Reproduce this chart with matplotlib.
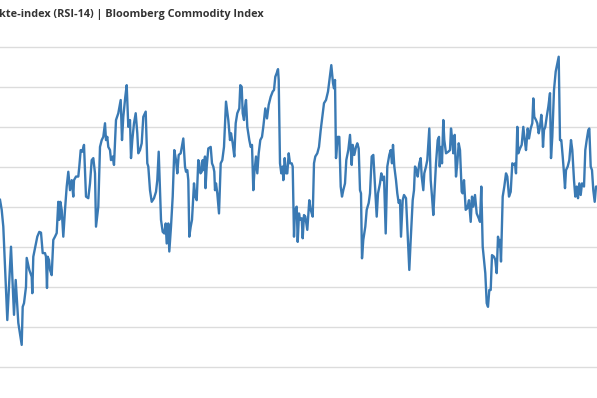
import matplotlib
matplotlib.use("Agg")
import matplotlib.pyplot as plt

# time index (weeks, arbitrary units) and RSI-14 values
t = [0, 1.7, 3.3, 7.3, 11, 14, 15.7, 18.3, 21.7, 22.7, 24, 26, 26.7, 29.3, 31.7, 32.3, 33.3,
     37.3, 39.3, 41, 42.7, 45, 46, 47, 47.7, 49, 50, 51.7, 53.3, 55, 56.7, 58.3, 59.3, 60.3,
     61.7, 63.3, 65, 66.7, 68.3, 70, 71.7, 73.3, 74, 76, 78.3, 79.3, 80.7, 82.3, 84, 85, 86,
     88.3, 90, 91.7, 93.3, 95, 96, 98.3, 100, 101.7, 103.3, 105, 106, 107.3, 108.3, 110, 111,
     112.7, 114, 116, 118.3, 120.7, 122, 123.3, 125.3, 126.7, 128.3, 130, 131, 132.3, 134,
     135.7, 137.3, 138.3, 140, 141.7, 143.3, 145.7, 147.3, 148.3, 150, 151.7, 154, 156, 157.3,
     158.7, 160, 161, 162.7, 164.3, 165.7, 166.7, 168.3, 169.3, 171, 172.7, 174.3, 176, 177.3,
     178.7, 180.7, 183.3, 185, 186, 187.3, 188.3, 189.3, 190.7, 192, 194, 195.3, 196.7, 198.3,
     199.2, 200.5, 201.7, 202.7, 203.3, 205, 205.5, 206.7, 208.3, 210.7, 212, 213.3, 214.3,
     215, 216, 217.3, 219, 220.7, 222.3, 224, 226, 228.3, 230, 231, 232.7, 234.3, 235.7,
     237.3, 239.3, 240.3, 241.7, 242.7, 244, 245, 246, 247.3, 249.3, 250.7, 252, 253.3, 254.3,
     256, 257.3, 258.7, 260.3, 262, 263.3, 265.3, 267, 268.7, 270.7, 272.7, 274, 275.3, 276.7,
     278, 278.7, 280, 281.3, 282.7, 283.3, 284.7, 286, 287.3, 288.7, 290, 291.7, 292.7, 294,
     295, 296.7, 297.7, 299, 300, 301.7, 302.7, 304, 305.3, 307.3, 309.3, 310.7, 312.7, 314,
     315.3, 317.3, 319, 320.7, 322.7, 324, 326, 328, 329.7, 331.3, 333, 334, 335, 336, 337.7,
     339.3, 340.7, 342, 343.3, 345, 346.3, 348.3, 350, 351.7, 352.7, 354.3, 356, 357.3, 358.7,
     360, 361, 362, 363.3, 365.3, 366.7, 368.7, 370, 371.7, 373.3, 374.7, 376.7, 378, 380,
     381.3, 382.7, 384, 385.7, 387.3, 389.3, 390.7, 392, 393, 394.3, 396, 397.3, 398.7, 400,
     401, 402.7, 404, 406, 407.3, 409.3, 410.7, 412.7, 414, 415, 416.7, 417.7, 419.3, 420.7,
     421.7, 423.3, 424.3, 426, 427.3, 429.3, 430.7, 432, 433.3, 435, 436, 437.7, 439, 439.7,
     441, 442, 443.3, 444.3, 446, 448.3, 450, 451, 452.3, 453.3, 454.7, 456, 457.3, 458.7,
     460, 461.7, 462.7, 464, 465.7, 467.3, 469, 470.7, 472, 473.3, 475, 476.7, 478.7, 480,
     481.3, 482.7, 484, 485.3, 486.7, 488, 489.3, 490.7, 492, 494, 495.3, 496.7, 498, 499.3,
     500, 501, 502.7, 504.3, 506, 507.3, 509, 510.7, 512.3, 514, 515, 516, 517.3, 518.3, 520,
     521.7, 523.3, 524.7, 526, 527.7, 529, 530.7, 532.3, 533.3, 534.3, 536, 537.3, 538.7, 540,
     541.3, 542.3, 543, 544, 545.3, 546.7, 548.3, 550, 551, 552.3, 554, 555.7, 557.3, 558.7,
     560, 561.3, 562.7, 564, 565, 566, 567.7, 569.3, 571, 572.3, 574, 575.3, 576.7, 578,
     579.3, 580.7, 582, 584, 585.3, 586.7, 588.3, 589.3, 590.7, 592, 593.3, 594.7, 596, 597]

rsi = [51.8, 49.3, 45.1, 21.8, 40.1, 23.1, 31.8, 21.1, 15.6, 25.1, 26.0, 30.1, 37.3, 34.3, 32.6, 28.5, 37.6,
       42.6, 43.8, 43.6, 38.5, 38.5, 37.6, 29.8, 37.6, 36.8, 34.3, 33.0, 41.8, 42.6, 43.5, 51.3, 46.8, 51.3,
       49.3, 42.6, 49.3, 55.1, 58.8, 54.2, 56.7, 52.6, 56.7, 57.6, 57.6, 60.1, 64.2, 63.8, 65.5, 59.2, 52.6,
       52.2, 55.9, 61.7, 62.2, 58.4, 45.1, 50.1, 65.0, 66.7, 67.5, 70.9, 66.7, 67.5, 65.0, 64.2, 61.7,
       62.6, 60.5, 71.7, 73.4, 76.7, 66.7, 72.5, 77.5, 80.4, 70.0, 71.7, 62.2, 66.7, 70.9,
       73.4, 68.4, 63.4, 64.2, 65.9, 72.5, 73.8, 60.9, 60.1, 54.2, 51.3, 52.2, 53.8, 56.7,
       63.8, 54.2, 46.8, 43.8, 43.4, 45.9, 40.9, 45.9, 38.9, 45.1, 52.6, 64.2, 61.7, 58.4,
       63.0, 63.4, 67.1, 60.1, 58.8, 59.2, 56.7, 42.6, 45.1, 46.8, 55.9, 52.6, 51.7, 61.7,
       61.0, 58.4, 58.8, 61.7, 59.2, 62.6, 54.7, 60.1, 64.6, 65.0, 60.9, 60.1, 58.8,
       54.2, 55.9, 53.4, 48.4, 60.9, 61.7, 65.0, 76.3, 71.7, 66.7, 68.4, 65.9, 62.6, 70.9,
       73.4, 74.6, 80.4, 80.0, 73.4, 71.7, 75.0, 76.7, 70.0, 66.7, 65.0, 65.5, 54.2, 58.4,
       62.6, 58.4, 63.4, 66.7, 67.5, 70.0, 74.6, 72.1, 75.5, 77.5, 78.8, 79.2, 82.5, 83.4,
       84.4, 81.7, 60.9, 58.4, 60.1, 56.7, 62.2, 58.4, 58.4, 63.4, 60.9, 60.9, 60.1, 42.6,
       49.3, 50.1, 41.3, 48.4, 46.8, 47.2, 42.2, 48.0, 47.6, 44.3, 51.7, 49.3, 47.6, 60.9,
       62.6, 63.4, 65.0, 69.2, 73.4, 75.9, 76.7, 78.8, 82.1, 85.4, 80.9, 79.6, 81.7, 62.2, 67.5,
       67.5, 55.1, 52.6, 54.2, 55.9, 61.7, 64.2, 68.0, 60.5, 65.5, 63.0, 65.0, 65.9, 64.6,
       54.2, 53.4, 37.2, 41.8, 45.1, 49.3, 51.0, 53.4, 62.6, 63.0, 56.7, 47.6, 53.4, 55.9,
       58.4, 56.7, 57.6, 43.4, 60.1, 63.0, 64.2, 60.9, 65.5, 60.1, 56.7, 53.4, 51.0, 51.7,
       42.6, 51.7, 53.0, 52.2, 45.1, 34.3, 41.8, 51.7, 54.2, 60.1, 59.2, 57.6, 60.9, 62.2,
       57.6, 54.2, 58.4, 60.1, 61.7, 69.6, 56.7, 52.6, 48.0, 55.9, 60.9, 66.7, 67.5, 60.1,
       65.0, 60.9, 71.7, 66.7, 63.4, 63.8, 64.2, 69.6, 66.7, 63.4, 68.0, 57.6, 60.9, 65.9,
       64.2, 53.8, 53.4, 56.7, 49.3, 49.7, 51.7, 46.3, 52.6, 50.1, 53.0, 48.4, 47.2, 46.3,
       55.1, 40.1, 36.8, 33.5, 26.0, 25.1, 29.3, 29.3, 38.0, 37.6, 36.8, 33.5, 42.6, 40.1,
       41.8, 36.4, 52.6, 55.1, 58.4, 57.6, 52.6, 53.8, 60.9, 60.5, 60.9, 58.4, 70.0, 63.4, 64.6,
       65.5, 70.0, 66.7, 64.2, 69.6, 67.1, 69.6, 70.9, 77.1, 72.5, 71.7, 70.9, 68.4, 70.0,
       73.0, 70.0, 65.0, 69.2, 70.0, 72.5, 75.0, 78.4, 62.2, 67.5, 79.2, 83.8, 85.8, 87.5,
       66.7, 66.7, 62.6, 58.4, 54.7, 59.2, 60.1, 61.7, 66.7, 64.2, 56.7, 52.6, 55.1, 52.2,
       55.9, 53.0, 55.9, 55.1, 64.2, 66.7, 69.2, 69.6, 60.1, 59.2, 54.2, 51.3, 55.1, 55.1]

grid_levels = [10, 20, 30, 40, 50, 60, 70, 80, 90]
title = "kte-index (RSI-14) | Bloomberg Commodity Index"

fig = plt.figure(figsize=(5.97, 3.98), dpi=100)
ax = fig.add_axes([0, 0, 1, 1])
ax.set_xlim(0, 597)
ax.set_ylim(2.35, 101.65)
ax.set_yticks(grid_levels)
ax.set_xticks([])
ax.tick_params(left=False, labelleft=False, bottom=False, labelbottom=False)
ax.grid(axis="y", color="#dcdcdc", linewidth=1.0)
ax.set_axisbelow(True)
for s in ax.spines.values():
    s.set_visible(False)

ax.plot(t, rsi, color="#3a7ab4", linewidth=1.7, solid_joinstyle="round")

fig.text(-0.002, 1 - 16.5 / 398, title, ha="left", va="baseline",
         fontsize=7.8, fontweight="bold", family="Open Sans", color="#333333")

fig.savefig("out.png", dpi=100, facecolor="white")
